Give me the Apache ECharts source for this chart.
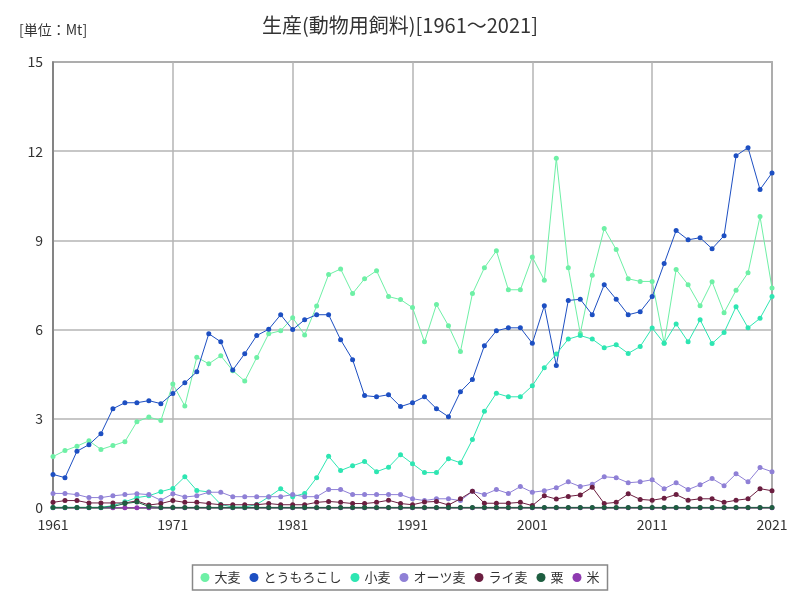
<!DOCTYPE html>
<html><head><meta charset="utf-8">
<script src="https://cdn.jsdelivr.net/npm/echarts@6/dist/echarts.min.js"></script>
<style>html,body{margin:0;padding:0;background:#fff}#c{width:800px;height:600px}</style>
</head><body><div id="c"></div>
<script>
const years = [];
for (let y = 1961; y <= 2021; y++) years.push(y);
const xTicks = [1961, 1971, 1981, 1991, 2001, 2011, 2021];
const yTicks = [0, 3, 6, 9, 12, 15];

const barley = [1.73,1.93,2.08,2.26,1.97,2.10,2.23,2.90,3.06,2.94,
  4.17,3.43,5.07,4.85,5.12,4.62,4.27,5.06,5.86,5.96,
  6.40,5.82,6.79,7.85,8.04,7.21,7.71,7.98,7.11,7.01,
  6.74,5.59,6.84,6.13,5.26,7.21,8.08,8.65,7.34,7.34,
  8.44,7.66,11.76,8.08,5.87,7.83,9.40,8.69,7.71,7.62,
  7.62,5.54,8.02,7.51,6.80,7.61,6.57,7.32,7.91,9.80,7.40];
const corn = [1.13,1.02,1.91,2.13,2.50,3.34,3.54,3.54,3.61,3.51,
  3.85,4.21,4.58,5.86,5.59,4.64,5.19,5.80,6.01,6.50,
  6.00,6.33,6.50,6.50,5.66,4.99,3.78,3.74,3.81,3.41,
  3.54,3.74,3.34,3.07,3.91,4.32,5.46,5.96,6.06,6.06,
  5.54,6.80,4.79,6.98,7.02,6.50,7.51,7.02,6.50,6.60,
  7.11,8.22,9.33,9.02,9.09,8.72,9.16,11.85,12.12,10.71,11.27];
const wheat = [0.02,0.02,0.02,0.02,0.02,0.08,0.21,0.35,0.41,0.55,
  0.66,1.05,0.59,0.54,0.12,0.03,0.03,0.12,0.37,0.65,
  0.38,0.49,1.02,1.74,1.26,1.42,1.56,1.22,1.37,1.79,
  1.49,1.19,1.19,1.66,1.52,2.30,3.25,3.86,3.74,3.74,
  4.11,4.72,5.18,5.68,5.80,5.68,5.39,5.49,5.20,5.43,
  6.05,5.54,6.19,5.59,6.33,5.53,5.90,6.77,6.06,6.38,7.11];
const oats = [0.49,0.49,0.45,0.35,0.35,0.41,0.45,0.48,0.45,0.26,
  0.48,0.37,0.41,0.53,0.53,0.38,0.38,0.38,0.38,0.38,
  0.45,0.38,0.38,0.62,0.62,0.45,0.45,0.45,0.45,0.45,
  0.31,0.25,0.31,0.31,0.25,0.56,0.45,0.62,0.49,0.72,
  0.53,0.58,0.68,0.88,0.72,0.80,1.05,1.02,0.85,0.88,
  0.95,0.65,0.85,0.62,0.78,0.99,0.75,1.15,0.88,1.36,1.22];
const rye = [0.19,0.25,0.25,0.17,0.17,0.17,0.17,0.24,0.10,0.15,
  0.25,0.19,0.19,0.15,0.11,0.11,0.11,0.11,0.15,0.11,
  0.11,0.11,0.19,0.22,0.19,0.15,0.15,0.19,0.26,0.15,
  0.11,0.20,0.22,0.10,0.31,0.56,0.16,0.16,0.16,0.19,
  0.08,0.41,0.30,0.39,0.44,0.70,0.15,0.19,0.48,0.29,
  0.26,0.33,0.45,0.26,0.31,0.31,0.19,0.26,0.31,0.65,0.58];
const millet = [0.02,0.02,0.02,0.02,0.02,0.05,0.15,0.20,0.05,0.02,
  0.02,0.02,0.02,0.02,0.02,0.02,0.02,0.02,0.02,0.02,
  0.02,0.02,0.02,0.02,0.02,0.02,0.02,0.02,0.02,0.02,
  0.02,0.02,0.02,0.02,0.02,0.02,0.02,0.02,0.02,0.02,
  0.02,0.02,0.02,0.02,0.02,0.02,0.02,0.02,0.02,0.02,
  0.02,0.02,0.02,0.02,0.02,0.02,0.02,0.02,0.02,0.02,0.02];
const rice = [0.01,0.01,0.01,0.01,0.01,0.01,0.01,0.01,0.01,0.01,
  0.01,0.01,0.01,0.01,0.01,0.01,0.01,0.01,0.01,0.01,
  0.01,0.01,0.01,0.01,0.01,0.01,0.01,0.01,0.01,0.01,
  0.01,0.01,0.01,0.01,0.01,0.01,0.01,0.01,0.01,0.01,
  0.01,0.01,0.01,0.01,0.01,0.01,0.01,0.01,0.01,0.01,
  0.01,0.01,0.01,0.01,0.01,0.01,0.01,0.01,0.01,0.01,0.01];

const seriesDefs = [
  {name:'大麦', data:barley, color:'#6ef0a6'},
  {name:'とうもろこし', data:corn, color:'#1d4fc2'},
  {name:'小麦', data:wheat, color:'#2ee6b2'},
  {name:'オーツ麦', data:oats, color:'#8f80d6'},
  {name:'ライ麦', data:rye, color:'#6b1e40'},
  {name:'粟', data:millet, color:'#1e5e40'},
  {name:'米', data:rice, color:'#8e3ab0'}
];

const font = '"Noto Sans CJK JP", "Noto Sans", sans-serif';
const chart = echarts.init(document.getElementById('c'), null, {renderer:'canvas'});
chart.setOption({
  animation:false,
  backgroundColor:'#fff',
  title:[{text:'生産(動物用飼料)[1961～2021]', left:'center', top:10,
    textStyle:{fontFamily:font, fontSize:20, fontWeight:'normal', color:'#333'}},
    {text:'[単位：Mt]', left:14, top:18,
    textStyle:{fontFamily:font, fontSize:14, fontWeight:'normal', color:'#333'}}],
  grid:{left:53, right:28, top:62, bottom:92, show:true, borderColor:'#777', borderWidth:1.5},
  legend:{bottom:10, left:'center', itemWidth:9, itemHeight:9, itemGap:9,
    icon:'circle', borderColor:'#888', borderWidth:1.5, padding:[6,8],
    textStyle:{fontFamily:font, fontSize:13, color:'#333'},
    data:seriesDefs.map(s=>s.name)},
  xAxis:{type:'value', min:1961, max:2021, interval:10,
    axisLine:{show:true, lineStyle:{color:'#777', width:1.5}},
    axisTick:{show:false},
    axisLabel:{fontFamily:font, fontSize:14, color:'#333', margin:10,
      formatter: v => String(v)},
    splitLine:{show:true, lineStyle:{color:'#b5b5b5', width:1.5}}},
  yAxis:{type:'value', min:0, max:15, interval:3,
    axisLine:{show:true, lineStyle:{color:'#777', width:1.5}},
    axisTick:{show:false},
    axisLabel:{fontFamily:font, fontSize:14, color:'#333', margin:10},
    splitLine:{show:true, lineStyle:{color:'#b5b5b5', width:1.5}}},
  series: seriesDefs.map((s, idx)=>({
    name:s.name, type:'line', data:years.map((y,i)=>[y, s.data[i]]),
    symbol:'circle', symbolSize:5, showSymbol:true,
    z: s.name === '米' ? 1 : 2 + idx,
    itemStyle:{color:s.color}, lineStyle:{color:s.color, width:1}
  }))
});
</script></body></html>
